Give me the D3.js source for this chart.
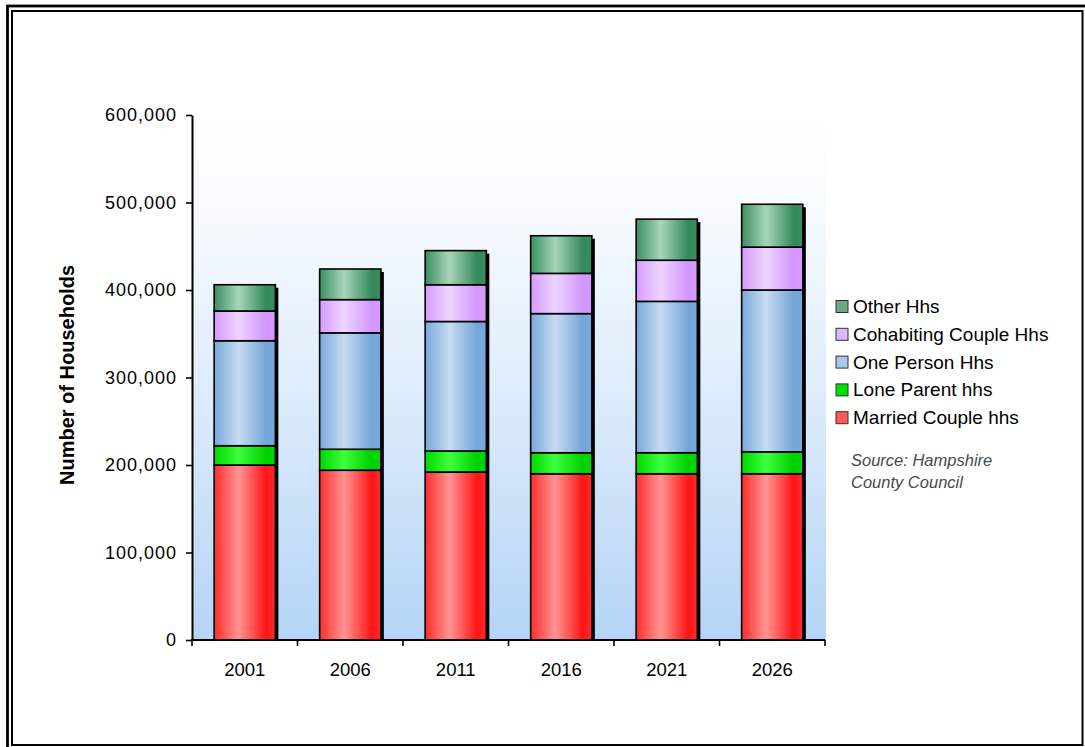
<!DOCTYPE html>
<html>
<head>
<meta charset="utf-8">
<script src="https://cdn.jsdelivr.net/npm/d3@7"></script>
<style>
  html, body { margin: 0; padding: 0; background: #ffffff; }
  svg { display: block; }
  text { font-family: "Liberation Sans", Arial, sans-serif; }
</style>
</head>
<body>
<script>
// Household projections by type, Hampshire
const years = ["2001", "2006", "2011", "2016", "2021", "2026"];
const marriedCouple    = [200000, 194000, 192000, 190000, 190000, 190000];
const loneParent       = [22000, 24000, 24000, 24000, 24000, 25000];
const onePerson        = [120000, 133000, 148000, 159000, 173000, 185000];
const cohabitingCouple = [34000, 38000, 42000, 46000, 47000, 49000];
const otherHhs         = [30000, 35000, 39000, 43000, 47000, 49000];
const seriesNames = ["Married Couple hhs", "Lone Parent hhs", "One Person Hhs", "Cohabiting Couple Hhs", "Other Hhs"];
const yTicks = [0, 100000, 200000, 300000, 400000, 500000, 600000];

const seriesValues = [marriedCouple, loneParent, onePerson, cohabitingCouple, otherHhs];

// bar fills: [edge, highlight, far edge], plus a flat legend swatch colour
const seriesStyle = [
  { edge: "#ff2c2c", light: "#ff9494", far: "#ff1414", swatch: "#ff5a5a" },
  { edge: "#00d800", light: "#3cff3c", far: "#00d000", swatch: "#00e000" },
  { edge: "#78a8dc", light: "#c6dcf0", far: "#74a6da", swatch: "#a8c8ea" },
  { edge: "#d69aff", light: "#eed4ff", far: "#d296ff", swatch: "#dcb8ff" },
  { edge: "#3a8e60", light: "#a8d6ba", far: "#348a5c", swatch: "#6aa886" }
];

const W = 1085, H = 747;
const margin = { left: 192, right: 1085 - 825, top: 115, bottom: 747 - 640 };

const svg = d3.select("body").append("svg")
  .attr("width", W).attr("height", H);

const defs = svg.append("defs");

const bg = defs.append("linearGradient").attr("id", "plotBg")
  .attr("x1", 0).attr("y1", 0).attr("x2", 0).attr("y2", 1);
bg.append("stop").attr("offset", 0).attr("stop-color", "#ffffff");
bg.append("stop").attr("offset", 0.2).attr("stop-color", "#f6faff");
bg.append("stop").attr("offset", 0.55).attr("stop-color", "#dcebfb");
bg.append("stop").attr("offset", 1).attr("stop-color", "#b4d4f6");

seriesStyle.forEach((s, i) => {
  const g = defs.append("linearGradient").attr("id", "barFill" + i)
    .attr("x1", 0).attr("y1", 0).attr("x2", 1).attr("y2", 0);
  g.append("stop").attr("offset", 0).attr("stop-color", s.edge);
  g.append("stop").attr("offset", 0.4).attr("stop-color", s.light);
  g.append("stop").attr("offset", 0.85).attr("stop-color", s.far);
  g.append("stop").attr("offset", 1).attr("stop-color", s.edge);
});

// double frame
svg.append("rect").attr("x", 7.5).attr("y", 6).attr("width", 1082).attr("height", 745)
  .attr("fill", "none").attr("stroke", "#000").attr("stroke-width", 2.8);
svg.append("rect").attr("x", 12).attr("y", 11).attr("width", 1070.5).attr("height", 734)
  .attr("fill", "none").attr("stroke", "#000").attr("stroke-width", 2);

const x = d3.scaleBand()
  .domain(years)
  .range([margin.left, W - margin.right])
  .paddingInner(0.42)
  .paddingOuter(0.21);

const y = d3.scaleLinear()
  .domain([0, 600000])
  .range([H - margin.bottom, margin.top]);

// plot area background
svg.append("rect")
  .attr("x", margin.left).attr("y", y(600000))
  .attr("width", W - margin.right - margin.left + 1)
  .attr("height", y(0) - y(600000))
  .attr("fill", "url(#plotBg)");

const rows = years.map((yr, i) => {
  const r = { year: yr };
  seriesNames.forEach((n, k) => { r[n] = seriesValues[k][i]; });
  return r;
});
const stacked = d3.stack().keys(seriesNames)(rows);
const totals = rows.map((r, i) => d3.sum(seriesValues, s => s[i]));

// drop shadow behind each column
svg.append("g").selectAll("rect").data(years).join("rect")
  .attr("x", d => x(d) + 3)
  .attr("y", (d, i) => y(totals[i]) + 3)
  .attr("width", x.bandwidth())
  .attr("height", (d, i) => y(0) - y(totals[i]) - 3)
  .attr("fill", "#000");

const layers = svg.append("g").selectAll("g").data(stacked).join("g")
  .attr("fill", (d, i) => `url(#barFill${i})`);

layers.selectAll("rect").data(d => d).join("rect")
  .attr("x", d => x(d.data.year))
  .attr("y", d => y(d[1]))
  .attr("width", x.bandwidth())
  .attr("height", d => y(d[0]) - y(d[1]))
  .attr("stroke", "#000")
  .attr("stroke-width", 1.6);

// axes
const yAxis = svg.append("g")
  .attr("transform", `translate(${margin.left},0)`)
  .call(d3.axisLeft(y).tickValues(yTicks).tickFormat(d3.format(",")).tickSize(6).tickSizeOuter(0).tickPadding(9));
yAxis.select(".domain").attr("stroke", "#000").attr("stroke-width", 2);
yAxis.selectAll(".tick line").attr("stroke", "#000").attr("stroke-width", 1.6);
yAxis.selectAll(".tick text")
  .attr("font-size", 18).attr("fill", "#000")
  .attr("letter-spacing", 1);

const xTickPos = d3.range(years.length + 1).map(i => margin.left + i * x.step());
const xAxisG = svg.append("g").attr("transform", `translate(0,${y(0)})`);
xAxisG.append("line")
  .attr("x1", margin.left - 1).attr("x2", W - margin.right)
  .attr("stroke", "#000").attr("stroke-width", 2);
xAxisG.selectAll(".xt").data(xTickPos).join("line")
  .attr("class", "xt")
  .attr("x1", d => d).attr("x2", d => d)
  .attr("y1", 0).attr("y2", 6)
  .attr("stroke", "#000").attr("stroke-width", 1.6);
xAxisG.selectAll(".xl").data(years).join("text")
  .attr("class", "xl")
  .attr("x", d => x(d) + x.bandwidth() / 2)
  .attr("y", 36)
  .attr("text-anchor", "middle")
  .attr("font-size", 18.5)
  .attr("fill", "#000")
  .text(d => d);

// y axis title
svg.append("text")
  .attr("transform", `translate(74,375) rotate(-90)`)
  .attr("text-anchor", "middle")
  .attr("font-size", 20)
  .attr("font-weight", "bold")
  .attr("fill", "#000")
  .text("Number of Households");

// legend
const legendOrder = seriesNames.map((n, i) => i).reverse();
const legend = svg.append("g").selectAll("g").data(legendOrder).join("g")
  .attr("transform", (d, i) => `translate(836,${306.5 + i * 27.8})`);
legend.append("rect")
  .attr("x", 0).attr("y", -6).attr("width", 12).attr("height", 12)
  .attr("fill", d => seriesStyle[d].swatch)
  .attr("stroke", "#333").attr("stroke-width", 1);
legend.append("text")
  .attr("x", 17).attr("y", 6.5)
  .attr("font-size", 19)
  .attr("fill", "#000")
  .text(d => seriesNames[d]);

// source note
const src = svg.append("text")
  .attr("font-size", 16.5)
  .attr("font-style", "italic")
  .attr("fill", "#4a4a4a");
src.append("tspan").attr("x", 851).attr("y", 466).text("Source: Hampshire");
src.append("tspan").attr("x", 851).attr("y", 488).text("County Council");
</script>
</body>
</html>
